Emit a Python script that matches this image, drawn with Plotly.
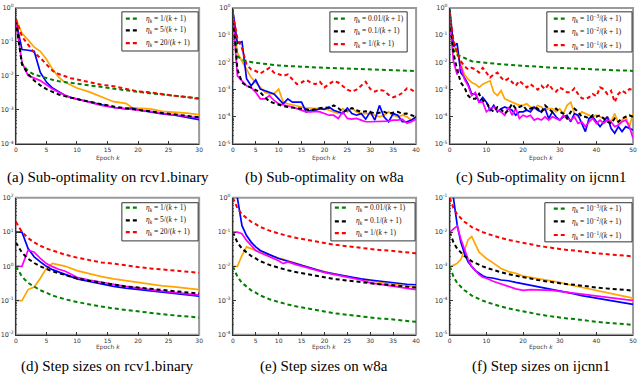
import plotly.graph_objects as go

# ---------------- (a) Sub-optimality on rcv1.binary ----------------
a_epochs = [0, 1, 2, 3, 4, 5, 6, 7, 8, 9, 10, 12, 14, 16, 18, 19, 20, 22, 24, 26, 28, 30]
a_green = [0.43, 0.022, 0.014, 0.011, 0.0098, 0.0086, 0.0077, 0.0070, 0.0066, 0.0062, 0.0059,
           0.0053, 0.0047, 0.0042, 0.0038, 0.0036, 0.0034, 0.0031, 0.0028, 0.0026, 0.0024, 0.0022]
a_black = [0.43, 0.022, 0.0114, 0.0073, 0.0053, 0.0041, 0.0034, 0.00285, 0.00255, 0.00229, 0.00209,
           0.00175, 0.00147, 0.00126, 0.00113, 0.00108, 0.00101, 0.00091, 0.00081, 0.00073, 0.00067, 0.00061]
a_red = [0.48, 0.144, 0.083, 0.048, 0.034, 0.022, 0.0142, 0.0114, 0.0098, 0.0086, 0.0079,
         0.0066, 0.0055, 0.0050, 0.0042, 0.0038, 0.0035, 0.0033, 0.0029, 0.0026, 0.0024, 0.0021]
a_orange = [0.48, 0.18, 0.115, 0.07, 0.053, 0.031, 0.0159, 0.0092, 0.0066, 0.0053, 0.0044,
            0.0034, 0.0024, 0.00175, 0.00157, 0.00118, 0.00113, 0.00108, 0.00091, 0.00087, 0.00081, 0.00073]
a_blue = [0.43, 0.060, 0.057, 0.053, 0.0127, 0.0066, 0.0044, 0.0034, 0.0027, 0.0023, 0.0021,
          0.00168, 0.00141, 0.00118, 0.00108, 0.00113, 0.00101, 0.00087, 0.00076, 0.00070, 0.00061, 0.00052]
a_magenta = [0.39, 0.025, 0.0102, 0.0086, 0.0073, 0.0055, 0.0041, 0.0033, 0.0027, 0.0023, 0.0021,
             0.00168, 0.00135, 0.00118, 0.00108, 0.00101, 0.00101, 0.00091, 0.00079, 0.00073, 0.00065, 0.00058]

# ---------------- (b) Sub-optimality on w8a ----------------
b_epochs = list(range(0, 41))
b_green = [0.61, 0.0166, 0.0126, 0.011, 0.0102, 0.0096, 0.0091, 0.0087, 0.0083, 0.008, 0.0077,
           0.0075, 0.0073, 0.0071, 0.007, 0.0069, 0.0068, 0.0066, 0.0065, 0.0064, 0.0063,
           0.0062, 0.0062, 0.0061, 0.006, 0.006, 0.0059, 0.0058, 0.0057, 0.0056, 0.0055,
           0.0055, 0.0054, 0.0053, 0.0053, 0.0052, 0.0051, 0.005, 0.0049, 0.0049, 0.0048]
b_red = [0.61, 0.076, 0.033, 0.0083, 0.0055, 0.0048, 0.0039, 0.0048, 0.0063, 0.0042, 0.0036,
         0.0032, 0.0036, 0.0024, 0.00158, 0.00182, 0.00227, 0.00182, 0.00158, 0.00192, 0.0012,
         0.00158, 0.00207, 0.00182, 0.00138, 0.00099, 0.00084, 0.00099, 0.00138, 0.00192, 0.00105,
         0.00084, 0.00099, 0.0009, 0.00064, 0.00052, 0.0006, 0.00075, 0.0011, 0.00099, 0.00075]
b_black = [0.61, 0.0055, 0.00182, 0.00138, 0.00117, 0.00099, 0.00079, 0.00052, 0.000365, 0.000318, 0.000277,
           0.000248, 0.000228, 0.000222, 0.00021, 0.000199, 0.000188, 0.000173, 0.000188, 0.00021, 0.000222,
           0.00021, 0.000262, 0.00021, 0.000151, 0.000173, 0.00021, 0.000173, 0.000151, 0.000159, 0.000151,
           0.000131, 0.000143, 0.000151, 0.000131, 0.000143, 0.000151, 0.000128, 0.000131, 0.000114, 0.0001]
b_orange = [0.61, 0.022, 0.011, 0.0055, 0.00275, 0.00182, 0.0012, 0.00079, 0.00069, 0.00069, 0.00104,
            0.000345, 0.0003, 0.000277, 0.000262, 0.000228, 0.00021, 0.00021, 0.000199, 0.00021, 0.000199,
            0.000173, 0.000151, 0.000131, 0.000199, 0.000151, 0.00021, 0.000151, 0.000131, 0.000131, 0.000131,
            0.000114, 0.0001, 0.000114, 0.000151, 0.000114, 0.0001, 0.000114, 0.0001, 0.0000754, 0.0001]
b_blue = [0.8, 0.05, 0.058, 0.0025, 0.00138, 0.00227, 0.00104, 0.00091, 0.00084, 0.00069, 0.000456,
          0.0003, 0.000456, 0.000345, 0.000345, 0.000345, 0.000151, 0.000173, 0.000173, 0.000199, 0.000188,
          0.000228, 0.000173, 0.000151, 0.000131, 0.00021, 0.000131, 0.000114, 0.000131, 0.0000819, 0.000151,
          0.0000754, 0.000262, 0.0001, 0.0000656, 0.000131, 0.000114, 0.0000656, 0.0000656, 0.0000754, 0.0001]
b_magenta = [0.61, 0.0032, 0.00209, 0.00138, 0.0012, 0.00079, 0.000456, 0.000456, 0.0006, 0.000397, 0.0003,
             0.000277, 0.000262, 0.000228, 0.000199, 0.000173, 0.000151, 0.000151, 0.000159, 0.000151, 0.000131,
             0.000114, 0.000114, 0.0000866, 0.000151, 0.0000866, 0.0000819, 0.0000866, 0.0000754, 0.0000656, 0.0000656,
             0.0000656, 0.0000656, 0.0000694, 0.0000694, 0.0000754, 0.0000754, 0.0000819, 0.0000571, 0.0000656, 0.0000819]

# ---------------- (c) Sub-optimality on ijcnn1 ----------------
c_epochs = list(range(0, 51))
c_green = [0.61, 0.029, 0.019, 0.0166, 0.0145, 0.0126, 0.011, 0.0105, 0.0101, 0.0098, 0.0096,
           0.0093, 0.009, 0.0088, 0.0085, 0.0083, 0.0081, 0.0079, 0.0077, 0.0075, 0.0073,
           0.0072, 0.007, 0.0069, 0.0068, 0.0067, 0.0066, 0.0065, 0.0064, 0.0064, 0.0063,
           0.0062, 0.0061, 0.006, 0.0059, 0.0058, 0.0058, 0.0057, 0.0056, 0.0056, 0.0055,
           0.0054, 0.0054, 0.0053, 0.0053, 0.0052, 0.0051, 0.005, 0.005, 0.0049, 0.0048]
c_red = [0.61, 0.066, 0.022, 0.011, 0.0073, 0.0055, 0.0063, 0.0055, 0.0042, 0.0063, 0.0042,
         0.00275, 0.0036, 0.0042, 0.00275, 0.00209, 0.00254, 0.00182, 0.00138, 0.00209, 0.00158,
         0.0012, 0.00158, 0.0012, 0.00099, 0.00138, 0.00104, 0.00158, 0.00104, 0.00084, 0.0012,
         0.00099, 0.00079, 0.00079, 0.0011, 0.00069, 0.00048, 0.000456, 0.00052, 0.00069, 0.00057,
         0.0012, 0.00104, 0.00069, 0.00091, 0.000345, 0.00069, 0.00091, 0.00075, 0.00104, 0.00099]
c_black = [0.61, 0.022, 0.0055, 0.00182, 0.0012, 0.0006, 0.000456, 0.000456, 0.00069, 0.000397, 0.000345,
           0.000199, 0.000151, 0.000228, 0.000188, 0.000131, 0.000173, 0.0003, 0.000199, 0.000228, 0.000262,
           0.000173, 0.000199, 0.000228, 0.000199, 0.000151, 0.000262, 0.000199, 0.000151, 0.000199, 0.000151,
           0.000131, 0.0000866, 0.000151, 0.000199, 0.000151, 0.0001, 0.0001, 0.0000866, 0.000114, 0.0001,
           0.000114, 0.0000866, 0.0000656, 0.0000571, 0.0000866, 0.0000656, 0.0000866, 0.0001, 0.000114, 0.0001]
c_orange = [0.61, 0.05, 0.022, 0.0083, 0.0036, 0.0024, 0.00182, 0.00158, 0.0012, 0.00158, 0.00182,
            0.00209, 0.00079, 0.0006, 0.00091, 0.000456, 0.000397, 0.000345, 0.0003, 0.000262, 0.000262,
            0.0003, 0.000228, 0.000199, 0.000262, 0.000228, 0.000173, 0.000199, 0.000199, 0.000151, 0.000199,
            0.000131, 0.000262, 0.000345, 0.000131, 0.0001, 0.000151, 0.000131, 0.000114, 0.0001, 0.000114,
            0.0001, 0.0000866, 0.0001, 0.0000656, 0.000131, 0.0000571, 0.0000754, 0.0001, 0.0000434, 0.000131]
c_blue = [0.92, 0.038, 0.05, 0.0042, 0.00275, 0.00158, 0.00069, 0.00069, 0.000345, 0.00052, 0.000345,
          0.000173, 0.000262, 0.000151, 0.000199, 0.000228, 0.000199, 0.000173, 0.000114, 0.000151, 0.000151,
          0.000173, 0.000151, 0.000228, 0.000173, 0.000151, 0.000199, 0.0000866, 0.000151, 0.0001, 0.0000754,
          0.0001, 0.000114, 0.0000656, 0.000131, 0.000114, 0.0000571, 0.0000286, 0.0000866, 0.0001, 0.0000656,
          0.0000434, 0.0000656, 0.0001, 0.0000378, 0.0000249, 0.0000434, 0.0000286, 0.0000434, 0.0000378, 0.0000329]
c_magenta = [0.46, 0.011, 0.0036, 0.0073, 0.0024, 0.00138, 0.0006, 0.00079, 0.000345, 0.000345, 0.000151,
             0.000199, 0.000228, 0.000173, 0.000151, 0.000114, 0.000228, 0.000114, 0.000199, 0.0000866, 0.000114,
             0.0001, 0.000114, 0.0000754, 0.0000866, 0.0000754, 0.0001, 0.0000754, 0.0001, 0.0000866, 0.0000754,
             0.000114, 0.0000866, 0.0000754, 0.0001, 0.0000571, 0.0000656, 0.0000434, 0.0000656, 0.0000866, 0.0000571,
             0.0000754, 0.0000571, 0.0000754, 0.0000656, 0.0000434, 0.0000498, 0.0000656, 0.0000754, 0.0000434, 0.0000164]

# ---------------- (d) Step sizes on rcv1.binary ----------------
d_epochs = [0, 1, 2, 3, 4, 5, 6, 7, 8, 10, 12, 14, 16, 18, 20, 22, 24, 26, 28, 30]
d_green = [1.0, 0.5, 0.33, 0.25, 0.2, 0.17, 0.14, 0.125, 0.11, 0.091, 0.077, 0.067, 0.059, 0.053, 0.048,
           0.043, 0.04, 0.037, 0.034, 0.032]
d_black = [5.0, 2.5, 1.67, 1.25, 1.0, 0.83, 0.71, 0.63, 0.56, 0.45, 0.38, 0.33, 0.29, 0.26, 0.24,
           0.22, 0.2, 0.19, 0.17, 0.16]
d_red = [20, 10, 6.7, 5.0, 4.0, 3.3, 2.9, 2.5, 2.2, 1.8, 1.5, 1.3, 1.2, 1.05, 0.95,
         0.87, 0.8, 0.74, 0.69, 0.65]
d_orange = [0.1, 0.1, 0.21, 0.25, 0.45, 0.88, 1.22, 1.14, 1.02, 0.75, 0.6, 0.5, 0.43, 0.38, 0.34,
            0.3, 0.27, 0.25, 0.23, 0.21]
d_blue = [10, 10, 3.3, 1.9, 1.35, 1.0, 0.8, 0.68, 0.58, 0.43, 0.36, 0.3, 0.26, 0.23, 0.21,
          0.19, 0.17, 0.16, 0.145, 0.135]
d_magenta = [1.0, 1.0, 3.0, 2.6, 1.7, 1.2, 0.98, 0.82, 0.73, 0.48, 0.4, 0.34, 0.3, 0.26, 0.23,
             0.21, 0.19, 0.175, 0.16, 0.145]

# ---------------- (e) Step sizes on w8a ----------------
e_epochs = [0, 1, 2, 3, 4, 5, 6, 7, 8, 10, 11, 12, 14, 16, 18, 20, 22, 24, 26, 28, 30, 32, 34, 36, 38, 40]
e_green = [0.01, 0.005, 0.0033, 0.0025, 0.002, 0.0017, 0.0014, 0.00125, 0.0011, 0.00091, 0.00083, 0.00077,
           0.00067, 0.00059, 0.00053, 0.00048, 0.00043, 0.0004, 0.00037, 0.00034, 0.00032, 0.0003, 0.00029,
           0.00027, 0.00026, 0.00024]
e_black = [0.1, 0.05, 0.033, 0.025, 0.02, 0.017, 0.014, 0.0125, 0.011, 0.0091, 0.0083, 0.0077,
           0.0067, 0.0059, 0.0053, 0.0048, 0.0043, 0.004, 0.0037, 0.0034, 0.0032, 0.003, 0.0029,
           0.0027, 0.0026, 0.0024]
e_red = [1.0, 0.5, 0.33, 0.25, 0.2, 0.17, 0.14, 0.125, 0.11, 0.091, 0.083, 0.077,
         0.067, 0.059, 0.053, 0.048, 0.043, 0.04, 0.037, 0.034, 0.032, 0.03, 0.029,
         0.027, 0.026, 0.024]
e_orange = [0.01, 0.01, 0.021, 0.037, 0.033, 0.029, 0.026, 0.023, 0.021, 0.018, 0.016, 0.0145,
            0.0118, 0.0097, 0.0082, 0.007, 0.006, 0.0053, 0.0047, 0.0042, 0.0038, 0.0034, 0.0031,
            0.0029, 0.0027, 0.0025]
e_blue = [3.0, 1.0, 0.154, 0.079, 0.051, 0.037, 0.029, 0.025, 0.022, 0.017, 0.0155, 0.014,
          0.0115, 0.0095, 0.0078, 0.0068, 0.006, 0.0053, 0.0047, 0.0043, 0.004, 0.0037, 0.0034,
          0.0032, 0.003, 0.0029]
e_magenta = [0.1, 0.1, 0.09, 0.057, 0.041, 0.029, 0.025, 0.022, 0.0196, 0.0145, 0.012, 0.0135,
             0.011, 0.0092, 0.0078, 0.0066, 0.0058, 0.0051, 0.0045, 0.004, 0.0033, 0.003, 0.0027,
             0.0025, 0.0023, 0.0021]

# ---------------- (f) Step sizes on ijcnn1 ----------------
f_epochs = [0, 1, 2, 3, 4, 5, 6, 7, 8, 9, 10, 12, 14, 16, 18, 20, 22, 24, 26, 28, 30,
            32, 34, 36, 38, 40, 42, 44, 46, 48, 50]
f_green = [1e-3, 5e-4, 3.3e-4, 2.5e-4, 2e-4, 1.7e-4, 1.4e-4, 1.25e-4, 1.1e-4, 1e-4, 9.1e-5,
           7.7e-5, 6.7e-5, 5.9e-5, 5.3e-5, 4.8e-5, 4.3e-5, 4.0e-5, 3.7e-5, 3.4e-5, 3.2e-5,
           3.0e-5, 2.9e-5, 2.7e-5, 2.6e-5, 2.4e-5, 2.3e-5, 2.2e-5, 2.1e-5, 2.0e-5, 1.96e-5]
f_black = [1e-2, 5e-3, 3.3e-3, 2.5e-3, 2e-3, 1.7e-3, 1.4e-3, 1.25e-3, 1.1e-3, 1e-3, 9.1e-4,
           7.7e-4, 6.7e-4, 5.9e-4, 5.3e-4, 4.8e-4, 4.3e-4, 4.0e-4, 3.7e-4, 3.4e-4, 3.2e-4,
           3.0e-4, 2.9e-4, 2.7e-4, 2.6e-4, 2.4e-4, 2.3e-4, 2.2e-4, 2.1e-4, 2.0e-4, 1.96e-4]
f_red = [1e-1, 5e-2, 3.3e-2, 2.5e-2, 2e-2, 1.7e-2, 1.4e-2, 1.25e-2, 1.1e-2, 1e-2, 9.1e-3,
         7.7e-3, 6.7e-3, 5.9e-3, 5.3e-3, 4.8e-3, 4.3e-3, 4.0e-3, 3.7e-3, 3.4e-3, 3.2e-3,
         3.0e-3, 2.9e-3, 2.7e-3, 2.6e-3, 2.4e-3, 2.3e-3, 2.2e-3, 2.1e-3, 2.0e-3, 1.96e-3]
f_orange = [0.001, 0.00107, 0.00122, 0.00158, 0.0029, 0.006, 0.0074, 0.0046, 0.0026, 0.0021, 0.0017,
            0.00122, 0.00087, 0.0007, 0.00063, 0.00052, 0.00048, 0.00044, 0.0004, 0.00037, 0.00034,
            0.0003, 0.00027, 0.00024, 0.00022, 0.0002, 0.000175, 0.00016, 0.000143, 0.000128, 0.000118]
f_blue = [0.3, 0.1, 0.017, 0.0051, 0.0024, 0.00135, 0.00098, 0.00075, 0.00063, 0.00053, 0.00048,
          0.00045, 0.0004, 0.00038, 0.00034, 0.00031, 0.00027, 0.00025, 0.00023, 0.00021, 0.000187,
          0.000175, 0.000157, 0.00014, 0.000128, 0.00012, 0.000107, 0.0001, 0.000092, 0.000082, 0.000078]
f_magenta = [0.01, 0.012, 0.015, 0.0064, 0.0033, 0.0016, 0.00098, 0.00075, 0.00057, 0.00048, 0.00045,
             0.00036, 0.0003, 0.00026, 0.00022, 0.0002, 0.00021, 0.00021, 0.0002, 0.0002, 0.000187,
             0.000175, 0.000168, 0.000157, 0.000147, 0.000135, 0.000128, 0.000118, 0.000113, 0.000107, 0.000102]

# ---------------- legend labels & captions ----------------
ETA = "<i>η<sub>k</sub></i> = "
KP1 = "/(<i>k</i> + 1)"
leg_rcv1 = [ETA + "1" + KP1, ETA + "5" + KP1, ETA + "20" + KP1]
leg_w8a = [ETA + "0.01" + KP1, ETA + "0.1" + KP1, ETA + "1" + KP1]
leg_ijcnn = [ETA + "10<sup>−3</sup>" + KP1, ETA + "10<sup>−2</sup>" + KP1, ETA + "10<sup>−1</sup>" + KP1]
captions = ["(a) Sub-optimality on rcv1.binary", "(b) Sub-optimality on w8a",
            "(c) Sub-optimality on ijcnn1", "(d) Step sizes on rcv1.binary",
            "(e) Step sizes on w8a", "(f) Step sizes on ijcnn1"]

# ---------------- figure ----------------
W, H = 640, 379
COLS = [(14, 199), (233, 418), (452, 637)]
ROWS = [(4, 143), (198, 338)]
SOLID_COLORS = ["#FFA500", "#0000FF", "#FF00FF"]
DASH_COLORS = ["#008000", "#000000", "#FF0000"]

panels = [
    dict(k=a_epochs, solid=[a_orange, a_blue, a_magenta], dashed=[a_green, a_black, a_red],
         xr=[0, 30], xt=list(range(0, 31, 5)), ye=(-4, 0), leg=leg_rcv1,
         box=(121, 8, 198, 48), sw=(125, 137), tx=143, ly=(15, 27, 40)),
    dict(k=b_epochs, solid=[b_orange, b_blue, b_magenta], dashed=[b_green, b_black, b_red],
         xr=[0, 40], xt=list(range(0, 41, 5)), ye=(-5, 0), leg=leg_w8a,
         box=(331, 8, 409, 49), sw=(335, 347), tx=353, ly=(15, 28, 41)),
    dict(k=c_epochs, solid=[c_orange, c_blue, c_magenta], dashed=[c_green, c_black, c_red],
         xr=[0, 50], xt=list(range(0, 51, 10)), ye=(-5, 0), leg=leg_ijcnn,
         box=(550, 8, 636, 49), sw=(557, 568), tx=573, ly=(15, 28, 42)),
    dict(k=d_epochs, solid=[d_orange, d_blue, d_magenta], dashed=[d_green, d_black, d_red],
         xr=[0, 30], xt=list(range(0, 31, 5)), ye=(-2, 2), leg=leg_rcv1,
         box=(121, 203, 198, 242), sw=(125, 137), tx=143, ly=(208, 221, 233)),
    dict(k=e_epochs, solid=[e_orange, e_blue, e_magenta], dashed=[e_green, e_black, e_red],
         xr=[0, 40], xt=list(range(0, 41, 5)), ye=(-4, 0), leg=leg_w8a,
         box=(332, 203, 417, 242), sw=(336, 348), tx=355, ly=(208, 222, 234)),
    dict(k=f_epochs, solid=[f_orange, f_blue, f_magenta], dashed=[f_green, f_black, f_red],
         xr=[0, 50], xt=list(range(0, 51, 10)), ye=(-5, -1), leg=leg_ijcnn,
         box=(548, 203, 636, 243), sw=(557, 568), tx=573, ly=(209, 222, 236)),
]


def PX(x):
    return x / W


def PY(y):
    return 1 - y / H


fig = go.Figure()
shapes = []
annotations = []
layout_axes = {}

for i, p in enumerate(panels):
    n = i + 1
    r, c = divmod(i, 3)
    xa = "x" if n == 1 else f"x{n}"
    ya = "y" if n == 1 else f"y{n}"
    for vals, col in zip(p["solid"], SOLID_COLORS):
        fig.add_trace(go.Scatter(x=p["k"], y=vals, mode="lines", xaxis=xa, yaxis=ya,
                                 line=dict(color=col, width=1.7), showlegend=False))
    for vals, col in zip(p["dashed"], DASH_COLORS):
        fig.add_trace(go.Scatter(x=p["k"], y=vals, mode="lines", xaxis=xa, yaxis=ya,
                                 line=dict(color=col, width=2, dash="4px,3px"), showlegend=False))

    x0, x1 = COLS[c]
    y0, y1 = ROWS[r]
    e0, e1 = p["ye"]
    exps = list(range(e1, e0 - 1, -1))
    xname = "xaxis" if n == 1 else f"xaxis{n}"
    yname = "yaxis" if n == 1 else f"yaxis{n}"
    layout_axes[xname] = dict(
        domain=[PX(x0), PX(x1)], anchor=ya, range=p["xr"], tickmode="array", tickvals=p["xt"],
        ticks="inside", ticklen=3, tickcolor="#333", showline=True, linecolor="#333", linewidth=1,
        showgrid=False, zeroline=False, tickfont=dict(family="DejaVu Sans", size=6, color="#333"),
    )
    layout_axes[yname] = dict(
        domain=[PY(y1), PY(y0)], anchor=xa, type="log", range=[e0, e1], tickmode="array",
        tickvals=[10.0 ** e for e in exps],
        ticktext=["10<sup>%s</sup>" % (str(e) if e >= 0 else "-" + str(-e)) for e in exps],
        ticks="inside", ticklen=3, tickcolor="#333", showline=True, linecolor="#333", linewidth=1,
        showgrid=False, zeroline=False, tickfont=dict(family="DejaVu Sans", size=6.5, color="#333"),
        minor=dict(ticks="inside", ticklen=1.5, tickcolor="#555", dtick="D1", showgrid=False),
    )
    # light grey frame (top/right)
    shapes.append(dict(type="rect", xref=f"{xa} domain", yref=f"{ya} domain", x0=0, x1=1, y0=0, y1=1,
                       line=dict(color="#9a9a9a", width=2), layer="below"))
    # legend box
    bx0, by0, bx1, by1 = p["box"]
    shapes.append(dict(type="rect", xref="paper", yref="paper", x0=PX(bx0), x1=PX(bx1),
                       y0=PY(by1), y1=PY(by0), line=dict(color="#333", width=1),
                       fillcolor="white", layer="above"))
    for ly, col, lab in zip(p["ly"], DASH_COLORS, p["leg"]):
        shapes.append(dict(type="line", xref="paper", yref="paper", x0=PX(p["sw"][0]), x1=PX(p["sw"][1]),
                           y0=PY(ly), y1=PY(ly), line=dict(color=col, width=2.2, dash="4px,3px"),
                           layer="above"))
        annotations.append(dict(text=lab, xref="paper", yref="paper", x=PX(p["tx"]), y=PY(ly),
                                xanchor="left", yanchor="middle", showarrow=False,
                                font=dict(family="Liberation Serif", size=7.5, color="#111")))
    # x title and caption
    title_y = 157 if r == 0 else 350
    cap_y = 177 if r == 0 else 370
    annotations.append(dict(text="Epoch <i>k</i>", xref="paper", yref="paper", x=PX((x0 + x1) / 2),
                            y=PY(title_y), xanchor="center", yanchor="middle", showarrow=False,
                            font=dict(family="DejaVu Sans", size=6, color="#444")))
    annotations.append(dict(text=captions[i], xref="paper", yref="paper", x=PX((x0 + x1) / 2),
                            y=PY(cap_y), xanchor="center", yanchor="middle", showarrow=False,
                            font=dict(family="Liberation Serif", size=15, color="#000")))

fig.update_layout(
    width=W, height=H, margin=dict(l=0, r=0, t=0, b=0),
    paper_bgcolor="white", plot_bgcolor="white", showlegend=False,
    shapes=shapes, annotations=annotations, **layout_axes,
)

fig.write_html("out.html", config={"displayModeBar": False},
               post_script="document.body.style.margin='0';")
